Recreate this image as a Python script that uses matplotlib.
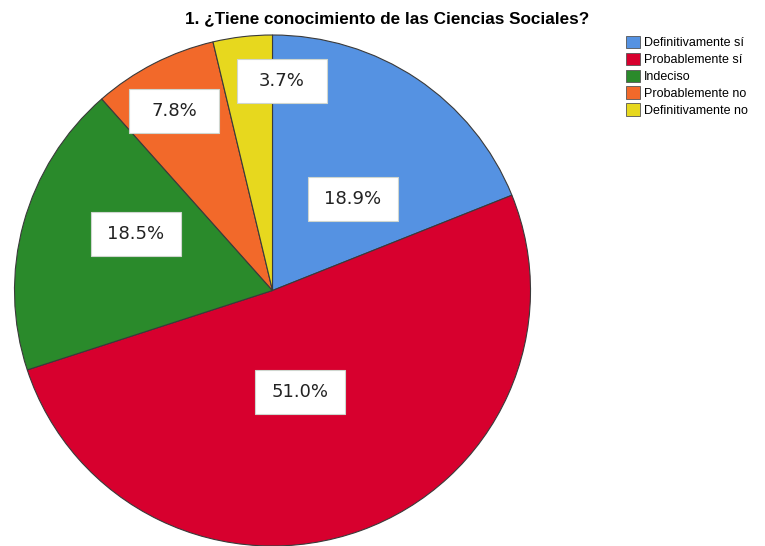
import matplotlib
matplotlib.use("Agg")
import matplotlib.pyplot as plt
from matplotlib.patches import Patch, Rectangle
import numpy as np

categories = ["Definitivamente sí", "Probablemente sí", "Indeciso",
              "Probablemente no", "Definitivamente no"]
values = [18.9, 51.0, 18.5, 7.8, 3.7]
labels = ["18.9%", "51.0%", "18.5%", "7.8%", "3.7%"]
colors = ["#5592E2", "#D7002E", "#2A8A2B", "#F2692A", "#E7D81E"]
title = "1. ¿Tiene conocimiento de las Ciencias Sociales?"

# label placement (angle offset from slice middle in degrees, radial fraction)
label_angle_shift = [-7.0, -5.0, -7.5, 1.0, -9.2]
label_radius = [0.475, 0.41, 0.575, 0.80, 0.82]

W, H = 765, 546
fig = plt.figure(figsize=(W / 100, H / 100), dpi=100)
fig.patch.set_facecolor("white")

cx, cy, rx, ry = 272.5, 290.5, 258, 255.5
ax = fig.add_axes([(cx - rx) / W, (H - cy - ry) / H, 2 * rx / W, 2 * ry / H])
wedges, _ = ax.pie(values, colors=colors, startangle=90, counterclock=False,
                   radius=1.0,
                   wedgeprops=dict(edgecolor="#3a3a3a", linewidth=0.8))
ax.set_aspect("auto")
ax.set_xlim(-1, 1)
ax.set_ylim(-1, 1)
ax.axis("off")

box_w = 90 / rx      # data units (axes spans 2 units over 2*rx px)
box_h = 44 / ry
for w, lab, da, r in zip(wedges, labels, label_angle_shift, label_radius):
    mid = np.deg2rad((w.theta1 + w.theta2) / 2 + da)
    x, y = r * np.cos(mid), r * np.sin(mid)
    ax.add_patch(Rectangle((x - box_w / 2, y - box_h / 2), box_w, box_h,
                           facecolor="white", edgecolor="#cfd6cf",
                           linewidth=0.8, zorder=5))
    ax.text(x, y, lab, ha="center", va="center", zorder=6,
            fontsize=13, family="DejaVu Sans", color="#222222")

fig.text(387.5 / W, 1 - 19 / H, title, ha="center", va="center",
         fontsize=12.3, fontweight="bold", family="Liberation Sans")

handles = [Patch(facecolor=c, edgecolor="#555555", linewidth=0.6) for c in colors]
fig.legend(handles, categories, loc="upper left",
           bbox_to_anchor=(626 / W, 1 - 36 / H), frameon=False,
           prop=dict(family="Liberation Sans", size=9),
           handlelength=1.15, handleheight=1.15, handletextpad=0.25,
           labelspacing=0.27, borderpad=0, borderaxespad=0)

fig.savefig("out.png", dpi=100, facecolor="white")
